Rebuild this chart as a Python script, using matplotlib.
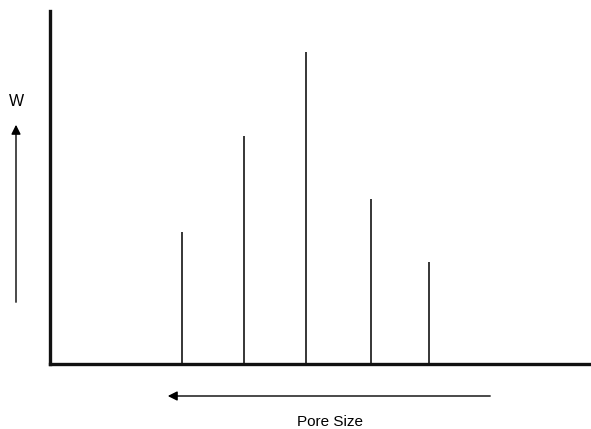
import matplotlib
matplotlib.use("Agg")
import matplotlib.pyplot as plt

# pore size classes (arbitrary position) and relative amount W
positions = [2.44, 3.59, 4.73, 5.93, 7.01]
heights = [3.74, 6.46, 8.84, 4.67, 2.89]

W, H = 591, 429
fig = plt.figure(figsize=(W / 100, H / 100), dpi=100)
ax = fig.add_axes([50 / W, (H - 364) / H, (W - 50) / W, (364 - 11) / H])

ax.vlines(positions, 0, heights, color="black", linewidth=1.1)
ax.set_xlim(0, 10)
ax.set_ylim(0, 10)
ax.set_xticks([])
ax.set_yticks([])
for side in ["top", "right"]:
    ax.spines[side].set_visible(False)
for side in ["left", "bottom"]:
    ax.spines[side].set_linewidth(2.4)
    ax.spines[side].set_color("#111111")

# axis arrows and labels
arrow = dict(arrowstyle="-|>", color="black", lw=1.0, mutation_scale=14)
ax.annotate("", xy=(16 / W, 1 - 122 / H), xytext=(16 / W, 1 - 305 / H),
            xycoords="figure fraction", textcoords="figure fraction",
            arrowprops=arrow, annotation_clip=False)
ax.annotate("", xy=(165 / W, 1 - 396 / H), xytext=(493 / W, 1 - 396 / H),
            xycoords="figure fraction", textcoords="figure fraction",
            arrowprops=arrow, annotation_clip=False)
fig.text(16 / W, 1 - 101 / H, "W", ha="center", va="center",
         fontsize=11.5, family="Liberation Sans")
fig.text(330 / W, 1 - 422 / H, "Pore Size", ha="center", va="center",
         fontsize=11, family="Liberation Sans")

fig.savefig("out.png", dpi=100)
